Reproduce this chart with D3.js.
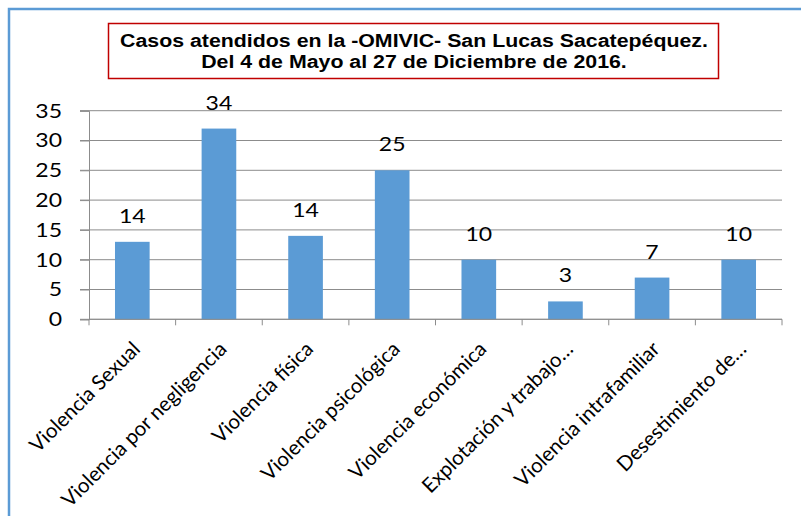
<!DOCTYPE html>
<html>
<head>
<meta charset="utf-8">
<script src="https://cdn.jsdelivr.net/npm/d3@7"></script>
<style>
  html, body { margin: 0; padding: 0; background: #fff; }
  svg { display: block; }
</style>
</head>
<body>
<div id="chart"></div>
<script>
// data
const categories = [
  'Violencia Sexual',
  'Violencia por negligencia',
  'Violencia física',
  'Violencia psicológica',
  'Violencia económica',
  'Explotación y trabajo…',
  'Violencia intrafamiliar',
  'Desestimiento de…'
];
// bar heights as drawn
const barValues = [13, 32, 14, 25, 10, 3, 7, 10];
// numbers printed above the bars (they differ from the bars in the source)
const labelValues = [14, 34, 14, 25, 10, 3, 7, 10];
const yTicks = [0, 5, 10, 15, 20, 25, 30, 35];
const titleLines = [
  'Casos atendidos en la -OMIVIC- San Lucas Sacatepéquez.',
  'Del 4 de Mayo al 27 de Diciembre de 2016.'
];

const width = 801, height = 516;
const plot = {left: 89, right: 782, top: 110.7, bottom: 319.3};
const barColor = '#5b9bd5';
const gridColor = '#8c8c8c';
const bodyFont = 'Lato, "Open Sans", sans-serif';
// the source image is a little stretched sideways
const stretch = 1.15;

const svg = d3.select('#chart').append('svg')
  .attr('width', width)
  .attr('height', height);

svg.append('rect')
  .attr('width', width).attr('height', height)
  .style('fill', '#fff');

// outer chart frame (cut off on the right and bottom)
svg.append('rect')
  .attr('x', 9).attr('y', 9)
  .attr('width', width + 20).attr('height', height + 20)
  .style('fill', 'none')
  .style('stroke', '#5b9bd5')
  .style('stroke-width', 2.5);

// title box
svg.append('rect')
  .attr('x', 108.5).attr('y', 23.5)
  .attr('width', 610).attr('height', 55)
  .style('fill', '#fff')
  .style('stroke', '#c00000')
  .style('stroke-width', 1.5);

const title = svg.append('g').selectAll('text')
  .data(titleLines)
  .join('text')
    .attr('x', 414)
    .attr('y', (d, i) => 46.5 + i * 21.5)
    .attr('text-anchor', 'middle')
    .style('font-family', '"Liberation Sans", Arial, sans-serif')
    .style('font-weight', 'bold')
    .style('font-size', '18px')
    .style('fill', '#000')
    .text(d => d);
title.attr('textLength', function() { return this.getComputedTextLength() * 1.185; })
  .attr('lengthAdjust', 'spacingAndGlyphs');

const x = d3.scaleBand()
  .domain(categories)
  .range([plot.left, plot.right])
  .paddingInner(0.6)
  .paddingOuter(0.3);

const y = d3.scaleLinear()
  .domain([0, 35])
  .range([plot.bottom, plot.top]);

// horizontal grid lines
svg.append('g').selectAll('line')
  .data(yTicks)
  .join('line')
    .attr('x1', plot.left - 9)
    .attr('x2', plot.right)
    .attr('y1', d => y(d))
    .attr('y2', d => y(d))
    .style('stroke', gridColor)
    .style('stroke-width', 1);

// y axis
const yAxis = svg.append('g')
  .attr('transform', `translate(${plot.left},0)`)
  .call(d3.axisLeft(y).tickValues(yTicks).tickSize(9).tickPadding(18));
yAxis.selectAll('path, line').style('stroke', gridColor);
yAxis.selectAll('text')
  .style('font-family', bodyFont)
  .style('font-size', '20px')
  .style('fill', '#000');
yAxis.selectAll('text')
  .attr('textLength', function() { return this.getComputedTextLength() * stretch; })
  .attr('lengthAdjust', 'spacingAndGlyphs');

// bars
svg.append('g').selectAll('rect')
  .data(categories)
  .join('rect')
    .attr('x', d => x(d))
    .attr('y', (d, i) => y(barValues[i]))
    .attr('width', x.bandwidth())
    .attr('height', (d, i) => y(0) - y(barValues[i]))
    .style('fill', barColor);

// value labels
svg.append('g').selectAll('text')
  .data(categories)
  .join('text')
    .attr('x', d => x(d) + x.bandwidth() / 2)
    .attr('y', (d, i) => y(barValues[i]) - 19)
    .attr('text-anchor', 'middle')
    .style('font-family', bodyFont)
    .style('font-size', '20px')
    .style('fill', '#000')
    .text((d, i) => labelValues[i])
    .attr('textLength', function() { return this.getComputedTextLength() * stretch; })
    .attr('lengthAdjust', 'spacingAndGlyphs');

// x axis: line + ticks on category boundaries
const xAxis = svg.append('g')
  .attr('transform', `translate(0,${plot.bottom})`);
xAxis.append('line')
  .attr('x1', plot.left).attr('x2', plot.right)
  .style('stroke', gridColor);
xAxis.selectAll('line.tick')
  .data(d3.range(categories.length + 1))
  .join('line')
    .attr('class', 'tick')
    .attr('x1', i => plot.left + i * x.step())
    .attr('x2', i => plot.left + i * x.step())
    .attr('y1', 0).attr('y2', 6)
    .style('stroke', gridColor);

// rotated category labels
const xLabels = svg.append('g')
  .attr('transform', `translate(0,${plot.bottom})`)
  .call(d3.axisBottom(x).tickSize(0).tickPadding(0));
xLabels.select('.domain').remove();
xLabels.selectAll('text')
  .attr('x', 0).attr('y', 0).attr('dy', 0)
  .attr('text-anchor', 'end')
  .attr('transform', 'translate(9,31) rotate(-45)')
  .style('font-family', bodyFont)
  .style('font-size', '20.5px')
  .style('fill', '#000');
</script>
</body>
</html>
